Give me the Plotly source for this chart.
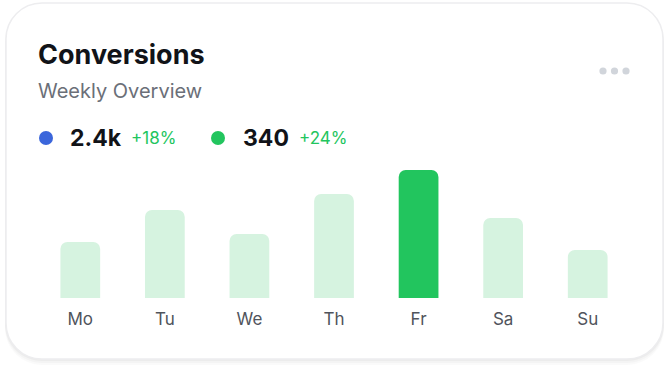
import plotly.graph_objects as go

W, H = 669, 368

days = ["Mo", "Tu", "We", "Th", "Fr", "Sa", "Su"]
conversions = [35, 55, 40, 65, 80, 50, 30]
highlight_day = "Fr"

title = "Conversions"
subtitle = "Weekly Overview"
kpi_values = ["2.4k", "340"]
kpi_changes = ["+18%", "+24%"]
kpi_colors = ["#3b66db", "#22c55e"]

LIGHT = "#d6f3e0"
GREEN = "#22c55e"


def px(x):
    return x / W


def py(y):
    return 1 - y / H


def rrect(x0, y0, x1, y1, r):
    k = 0.5523 * r
    pts = [
        f"M {px(x0 + r)},{py(y0)}",
        f"L {px(x1 - r)},{py(y0)}",
        f"C {px(x1 - r + k)},{py(y0)} {px(x1)},{py(y0 + r - k)} {px(x1)},{py(y0 + r)}",
        f"L {px(x1)},{py(y1 - r)}",
        f"C {px(x1)},{py(y1 - r + k)} {px(x1 - r + k)},{py(y1)} {px(x1 - r)},{py(y1)}",
        f"L {px(x0 + r)},{py(y1)}",
        f"C {px(x0 + r - k)},{py(y1)} {px(x0)},{py(y1 - r + k)} {px(x0)},{py(y1 - r)}",
        f"L {px(x0)},{py(y0 + r)}",
        f"C {px(x0)},{py(y0 + r - k)} {px(x0 + r - k)},{py(y0)} {px(x0 + r)},{py(y0)}",
        "Z",
    ]
    return " ".join(pts)


colors = [GREEN if d == highlight_day else LIGHT for d in days]

fig = go.Figure(
    go.Bar(
        x=days,
        y=conversions,
        marker=dict(color=colors, line=dict(width=0)),
        width=0.47,
        hoverinfo="skip",
    )
)

shapes = []
# soft shadow
for dy, op in [(6, 0.02), (4, 0.025), (2, 0.03)]:
    shapes.append(dict(type="path", xref="paper", yref="paper",
                       path=rrect(6 - 1, 3 + dy - 1, 663 + 1, 359 + dy, 37),
                       fillcolor=f"rgba(0,0,0,{op})", line=dict(width=0), layer="below"))
# card
shapes.append(dict(type="path", xref="paper", yref="paper",
                   path=rrect(6, 3, 663, 359, 36),
                   fillcolor="white", line=dict(color="#ededef", width=1.5), layer="below"))
# menu dots
for cx in [603, 614.5, 626]:
    r = 3.6
    shapes.append(dict(type="circle", xref="paper", yref="paper",
                       x0=px(cx - r), x1=px(cx + r), y0=py(71 + r), y1=py(71 - r),
                       fillcolor="#d1d5db", line=dict(width=0)))
# legend dots
for cx, c in zip([46, 218], kpi_colors):
    r = 7
    shapes.append(dict(type="circle", xref="paper", yref="paper",
                       x0=px(cx - r), x1=px(cx + r), y0=py(138 + r), y1=py(138 - r),
                       fillcolor=c, line=dict(width=0)))

ann = []
ann.append(dict(text=f"<b>{title}</b>", x=px(36), y=py(55), xref="paper", yref="paper",
                xanchor="left", yanchor="middle", showarrow=False,
                font=dict(family="Inter", size=27, color="#111318")))
ann.append(dict(text=subtitle, x=px(36), y=py(91), xref="paper", yref="paper",
                xanchor="left", yanchor="middle", showarrow=False,
                font=dict(family="Inter", size=20, color="#6b6f78")))
for vx, cx, v, ch in [(68, 129, kpi_values[0], kpi_changes[0]), (241, 297, kpi_values[1], kpi_changes[1])]:
    ann.append(dict(text=f"<b>{v}</b>", x=px(vx), y=py(138), xref="paper", yref="paper",
                    xanchor="left", yanchor="middle", showarrow=False,
                    font=dict(family="Inter", size=23, color="#111318")))
    ann.append(dict(text=ch, x=px(cx), y=py(138), xref="paper", yref="paper",
                    xanchor="left", yanchor="middle", showarrow=False,
                    font=dict(family="Inter", size=17, color=GREEN)))

fig.update_layout(
    width=W, height=H,
    margin=dict(l=0, r=0, t=0, b=0),
    paper_bgcolor="white",
    plot_bgcolor="rgba(0,0,0,0)",
    barcornerradius=7,
    shapes=shapes,
    annotations=ann,
    showlegend=False,
    xaxis=dict(domain=[px(38), px(630)], showgrid=False, zeroline=False, showline=False,
               ticks="", tickfont=dict(family="Inter", size=17, color="#50545c"),
               ticklabelstandoff=9, fixedrange=True),
    yaxis=dict(domain=[py(298), py(170)], range=[0, 80], visible=False, fixedrange=True),
)

fig.write_html("out.html", config={"displayModeBar": False},
               post_script="document.body.style.margin='0';document.body.style.overflow='hidden';")
